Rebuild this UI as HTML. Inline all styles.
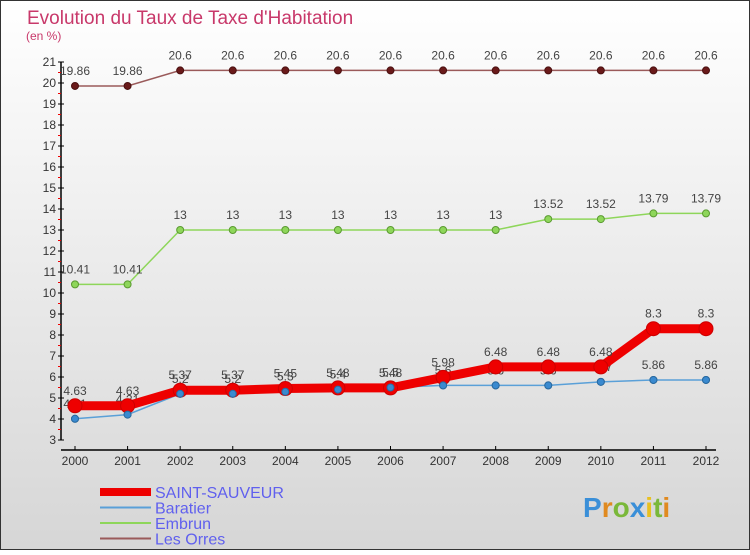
<!DOCTYPE html>
<html><head><meta charset="utf-8"><style>
body{margin:0}
svg text{font-family:"Liberation Sans",sans-serif}
</style></head><body>
<svg id="chart" width="750" height="550" xmlns="http://www.w3.org/2000/svg">
<defs><linearGradient id="bg" x1="0" y1="0" x2="0" y2="1"><stop offset="0" stop-color="#ffffff"/><stop offset="1" stop-color="#d6d6d6"/></linearGradient></defs>
<rect x="0.5" y="0.5" width="749" height="549" fill="url(#bg)" stroke="#333"/>
<text x="27" y="24" font-size="19" fill="#c8386a">Evolution du Taux de Taxe d'Habitation</text>
<text x="26" y="40" font-size="12" fill="#c8386a">(en %)</text>
<g id="axes"></g>
<g id="series"></g>
<g id="legend"></g>
<g font-size="28" font-weight="bold">
<text x="583" y="517"><tspan fill="#3a8fd8">P</tspan><tspan fill="#e08a20">r</tspan><tspan fill="#7ab83a">o</tspan><tspan fill="#3a8fd8">x</tspan><tspan fill="#e8c020">i</tspan><tspan fill="#7ab83a">t</tspan><tspan fill="#e08a20">i</tspan></text>
</g>
</svg>
<script>
const years=[2000,2001,2002,2003,2004,2005,2006,2007,2008,2009,2010,2011,2012];
const yTicks=[3,4,5,6,7,8,9,10,11,12,13,14,15,16,17,18,19,20,21];
const saintSauveur=[4.63,4.63,5.37,5.37,5.45,5.48,5.48,5.98,6.48,6.48,6.48,8.3,8.3];
const baratier=[4.01,4.21,5.2,5.2,5.3,5.4,5.5,5.6,5.6,5.6,5.77,5.86,5.86];
const embrun=[10.41,10.41,13,13,13,13,13,13,13,13.52,13.52,13.79,13.79];
const lesOrres=[19.86,19.86,20.6,20.6,20.6,20.6,20.6,20.6,20.6,20.6,20.6,20.6,20.6];
const seriesNames=["SAINT-SAUVEUR","Baratier","Embrun","Les Orres"];
const NS="http://www.w3.org/2000/svg";
function xs(i){return 75+i*(706-75)/(years.length-1);}
function ys(v){return 440-(v-3)*(440-62)/18;}
function el(t,a,p,txt){const e=document.createElementNS(NS,t);for(const k in a)e.setAttribute(k,a[k]);if(txt!==undefined)e.textContent=txt;p.appendChild(e);return e;}
const axes=document.getElementById('axes');
let a=el('line',{x1:61,y1:ys(21),x2:61,y2:440,stroke:'#000','stroke-width':1.5},axes);


yTicks.forEach(v=>{
 el('line',{x1:58,y1:ys(v),x2:64,y2:ys(v),stroke:'#000'},axes);
 if(v<21) el('line',{x1:58,y1:ys(v+0.5),x2:61,y2:ys(v+0.5),stroke:'#e00'},axes);
 const t=el('text',{x:56,y:ys(v)+4,'font-size':12,'text-anchor':'end',fill:'#333'},axes,String(v));
 
 
});
a=el('line',{x1:61,y1:450,x2:716,y2:450,stroke:'#000','stroke-width':1.5},axes);


years.forEach((y,i)=>{
 el('line',{x1:xs(i),y1:446,x2:xs(i),y2:450,stroke:'#000'},axes);
 const t=el('text',{x:xs(i),y:465,'font-size':12,'text-anchor':'middle',fill:'#333'},axes,String(y));
 
 
});
const S=document.getElementById('series');
function draw(data,name,color,dot,w,r,stroke){
 const g=el('g',{},S);
 
 
 el('polyline',{points:data.map((v,i)=>xs(i)+','+ys(v)).join(' '),fill:'none',stroke:color,'stroke-width':w},g);
 data.forEach((v,i)=>{
  const c=el('circle',{cx:xs(i),cy:ys(v),r:r,fill:dot,stroke:stroke,'stroke-width':1},g);
  
  
  const t=el('text',{x:xs(i),y:ys(v)-11,'font-size':12,'text-anchor':'middle',fill:'#444'},g,String(v));
  
  
 });
}
draw(lesOrres,'les-orres','#9a5a5a','#6a1a1a',1.5,3.5,'#4a1010');
draw(embrun,'embrun','#8ed65a','#8ed65a',1.5,3.5,'#5a9a30');
draw(baratier,'baratier','#5aa0d8','#3a8ad0',1.5,3.5,'#2a6aa0');
draw(saintSauveur,'saint-sauveur','#ee0000','#ee0000',9,7,'#cc0000');
baratier.forEach((v,i)=>{const c=el('circle',{cx:xs(i),cy:ys(v),r:3.5,fill:'#3a8ad0',stroke:'#2a6aa0'},S);
 
 });
const L=document.getElementById('legend');
const lc=['#ee0000','#5aa0d8','#8ed65a','#9a5a5a'],lw=[8,2,2,2];
seriesNames.forEach((n,i)=>{
 const y=492+i*15.5;
 el('line',{x1:100,y1:y,x2:151,y2:y,stroke:lc[i],'stroke-width':lw[i]},L);
 const t=el('text',{x:155,y:y+6,'font-size':16,fill:'#6060ee'},L,n);
 
 
});
</script>
</body></html>
